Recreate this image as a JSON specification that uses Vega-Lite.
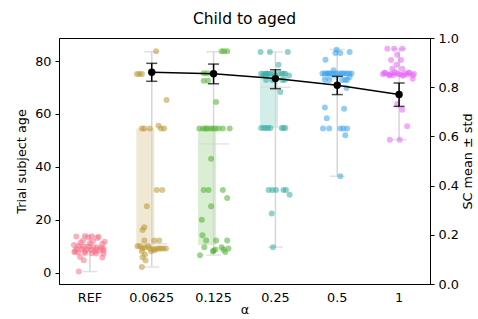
{
  "$schema": "https://vega.github.io/schema/vega-lite/v6.json",
  "width": 371,
  "height": 246,
  "autosize": {"type": "none"},
  "padding": {"left": 59, "top": 38, "right": 48, "bottom": 35},
  "background": "white",
  "config": {
    "font": "DejaVu Sans",
    "view": {"stroke": "black", "strokeWidth": 1},
    "axis": {"labelFontSize": 12.8, "titleFontSize": 12.8, "labelColor": "black", "titleColor": "black", "domainColor": "black", "tickColor": "black", "tickSize": 4, "labelPadding": 3, "titleFontWeight": "normal", "grid": false, "labelFont": "DejaVu Sans", "titleFont": "DejaVu Sans"}
  },
  "title": {"text": "Child to aged", "fontSize": 15.5, "fontWeight": "normal", "color": "black", "offset": 5, "font": "DejaVu Sans"},
  "datasets": {
    "box": [
      {"a": "REF", "q1": 8, "q3": 11, "med": 9.5, "lo": 0.5, "hi": 13.9},
      {"a": "0.0625", "q1": 9.4, "q3": 54.5, "med": 11, "lo": 2.2, "hi": 83.5},
      {"a": "0.125", "q1": 10.5, "q3": 54.5, "med": 48.7, "lo": 6.7, "hi": 83.5},
      {"a": "0.25", "q1": 54.7, "q3": 75.2, "med": 70.1, "lo": 9.7, "hi": 83.4},
      {"a": "0.5", "q1": 73, "q3": 75.3, "med": 75.3, "lo": 36.5, "hi": 84.4},
      {"a": "1", "q1": 74.5, "q3": 75.6, "med": 75, "lo": 50.3, "hi": 84.6}
    ],
    "sc": [
      {"a": "0.0625", "m": 0.861, "lo": 0.824, "hi": 0.897},
      {"a": "0.125", "m": 0.855, "lo": 0.814, "hi": 0.894},
      {"a": "0.25", "m": 0.835, "lo": 0.794, "hi": 0.871},
      {"a": "0.5", "m": 0.808, "lo": 0.770, "hi": 0.844},
      {"a": "1", "m": 0.770, "lo": 0.722, "hi": 0.817}
    ],
    "pts": [
      {"a":"REF","v":0.5,"j":-0.18},{"a":"REF","v":13.7,"j":-0.22},{"a":"REF","v":13.9,"j":-0.08},{"a":"REF","v":13.5,"j":-0.03},{"a":"REF","v":13.8,"j":0.03},{"a":"REF","v":13.6,"j":0.14},{"a":"REF","v":13.2,"j":0.12},{"a":"REF","v":12.2,"j":-0.11},{"a":"REF","v":12,"j":0.05},{"a":"REF","v":11.8,"j":0.24},{"a":"REF","v":11.5,"j":-0.15},{"a":"REF","v":11,"j":0.2},{"a":"REF","v":10.5,"j":-0.26},{"a":"REF","v":10.2,"j":-0.18},{"a":"REF","v":10,"j":-0.1},{"a":"REF","v":10,"j":-0.02},{"a":"REF","v":9.8,"j":0.06},{"a":"REF","v":9.6,"j":0.12},{"a":"REF","v":9.5,"j":0.18},{"a":"REF","v":9.2,"j":0.22},{"a":"REF","v":9,"j":-0.22},{"a":"REF","v":9,"j":-0.13},{"a":"REF","v":8.8,"j":-0.05},{"a":"REF","v":8.7,"j":0.02},{"a":"REF","v":8.6,"j":0.1},{"a":"REF","v":8.5,"j":0.16},{"a":"REF","v":8.4,"j":0.22},{"a":"REF","v":8.2,"j":-0.24},{"a":"REF","v":8,"j":-0.08},{"a":"REF","v":8,"j":0.08},{"a":"REF","v":7.8,"j":-0.25},{"a":"REF","v":7.7,"j":-0.19},{"a":"REF","v":7.5,"j":-0.08},{"a":"REF","v":7.4,"j":0.03},{"a":"REF","v":7.3,"j":0.1},{"a":"REF","v":7.2,"j":0.22},{"a":"REF","v":6,"j":-0.16},{"a":"REF","v":5.8,"j":0.2},{"a":"REF","v":4.8,"j":-0.1},{"a":"REF","v":11.2,"j":0},
      {"a":"0.0625","v":83.7,"j":0.07},{"a":"0.0625","v":75.1,"j":-0.24},{"a":"0.0625","v":75.1,"j":-0.2},{"a":"0.0625","v":75.1,"j":-0.16},{"a":"0.0625","v":65.3,"j":0.24},{"a":"0.0625","v":54.5,"j":-0.16},{"a":"0.0625","v":54.5,"j":-0.12},{"a":"0.0625","v":54.5,"j":-0.03},{"a":"0.0625","v":54.5,"j":0.15},{"a":"0.0625","v":54.5,"j":0.2},{"a":"0.0625","v":55.6,"j":0.11},{"a":"0.0625","v":31.3,"j":0.08},{"a":"0.0625","v":31.3,"j":0.17},{"a":"0.0625","v":25.2,"j":-0.08},{"a":"0.0625","v":17.2,"j":-0.12},{"a":"0.0625","v":16.2,"j":-0.15},{"a":"0.0625","v":12.2,"j":-0.12},{"a":"0.0625","v":12.2,"j":0.04},{"a":"0.0625","v":12.2,"j":0.12},{"a":"0.0625","v":10.1,"j":-0.23},{"a":"0.0625","v":10.1,"j":-0.19},{"a":"0.0625","v":9.2,"j":-0.15},{"a":"0.0625","v":9.6,"j":-0.11},{"a":"0.0625","v":10.1,"j":-0.06},{"a":"0.0625","v":9.2,"j":-0.03},{"a":"0.0625","v":8.9,"j":0.03},{"a":"0.0625","v":9.2,"j":0.08},{"a":"0.0625","v":9.2,"j":0.12},{"a":"0.0625","v":9.2,"j":0.15},{"a":"0.0625","v":9.2,"j":0.19},{"a":"0.0625","v":9.2,"j":0.23},{"a":"0.0625","v":8.2,"j":-0.16},{"a":"0.0625","v":8.2,"j":-0.01},{"a":"0.0625","v":8.5,"j":0.05},{"a":"0.0625","v":6.9,"j":-0.11},{"a":"0.0625","v":5.9,"j":-0.15},{"a":"0.0625","v":4.7,"j":-0.1},{"a":"0.0625","v":2.2,"j":-0.16},
      {"a":"0.125","v":83.7,"j":0.13},{"a":"0.125","v":83.7,"j":0.17},{"a":"0.125","v":83.7,"j":0.22},{"a":"0.125","v":75.4,"j":-0.16},{"a":"0.125","v":75.4,"j":-0.1},{"a":"0.125","v":75.4,"j":-0.02},{"a":"0.125","v":72.6,"j":-0.16},{"a":"0.125","v":72.6,"j":-0.09},{"a":"0.125","v":64.5,"j":0.04},{"a":"0.125","v":54.5,"j":-0.23},{"a":"0.125","v":54.5,"j":-0.17},{"a":"0.125","v":54.5,"j":-0.13},{"a":"0.125","v":54.5,"j":-0.1},{"a":"0.125","v":54.5,"j":-0.05},{"a":"0.125","v":54.5,"j":-0.01},{"a":"0.125","v":54.5,"j":0.03},{"a":"0.125","v":54.5,"j":0.08},{"a":"0.125","v":54.5,"j":0.15},{"a":"0.125","v":54.5,"j":0.26},{"a":"0.125","v":43.1,"j":-0.04},{"a":"0.125","v":31.3,"j":-0.16},{"a":"0.125","v":31.3,"j":-0.08},{"a":"0.125","v":31.3,"j":0.15},{"a":"0.125","v":28.3,"j":0.22},{"a":"0.125","v":25.2,"j":-0.04},{"a":"0.125","v":20.1,"j":-0.19},{"a":"0.125","v":14.2,"j":-0.18},{"a":"0.125","v":12.2,"j":-0.12},{"a":"0.125","v":12.2,"j":0.04},{"a":"0.125","v":12.2,"j":0.22},{"a":"0.125","v":9.7,"j":-0.15},{"a":"0.125","v":8.4,"j":0},{"a":"0.125","v":8.8,"j":0.03},{"a":"0.125","v":9.7,"j":0.13},{"a":"0.125","v":8.8,"j":0.16},{"a":"0.125","v":9.2,"j":0.24},{"a":"0.125","v":7.9,"j":0.19},{"a":"0.125","v":8.2,"j":-0.01},{"a":"0.125","v":6.7,"j":-0.22},
      {"a":"0.25","v":83.4,"j":-0.24},{"a":"0.25","v":83.4,"j":-0.09},{"a":"0.25","v":83.4,"j":0.2},{"a":"0.25","v":78.6,"j":0.05},{"a":"0.25","v":75.2,"j":-0.23},{"a":"0.25","v":75.2,"j":-0.19},{"a":"0.25","v":75.2,"j":-0.15},{"a":"0.25","v":75.2,"j":-0.12},{"a":"0.25","v":75.2,"j":-0.08},{"a":"0.25","v":75.2,"j":0.05},{"a":"0.25","v":75.2,"j":0.1},{"a":"0.25","v":75.2,"j":0.13},{"a":"0.25","v":75.2,"j":0.16},{"a":"0.25","v":75.2,"j":-0.13},{"a":"0.25","v":75.2,"j":-0.03},{"a":"0.25","v":74.5,"j":0},{"a":"0.25","v":74.5,"j":0.22},{"a":"0.25","v":74.5,"j":-0.17},{"a":"0.25","v":72.8,"j":-0.15},{"a":"0.25","v":72.8,"j":-0.05},{"a":"0.25","v":72.8,"j":0.11},{"a":"0.25","v":72.8,"j":0.15},{"a":"0.25","v":68.3,"j":0.08},{"a":"0.25","v":54.7,"j":-0.23},{"a":"0.25","v":54.7,"j":-0.19},{"a":"0.25","v":54.7,"j":-0.15},{"a":"0.25","v":54.7,"j":-0.12},{"a":"0.25","v":54.7,"j":-0.08},{"a":"0.25","v":54.7,"j":0.1},{"a":"0.25","v":54.7,"j":0.13},{"a":"0.25","v":54.7,"j":0.16},{"a":"0.25","v":31.3,"j":-0.11},{"a":"0.25","v":31.3,"j":-0.05},{"a":"0.25","v":31.3,"j":0.01},{"a":"0.25","v":31.3,"j":0.13},{"a":"0.25","v":31.3,"j":0.17},{"a":"0.25","v":29.5,"j":0.23},{"a":"0.25","v":22.4,"j":-0.06},{"a":"0.25","v":9.7,"j":-0.04},
      {"a":"0.5","v":84.3,"j":-0.01},{"a":"0.5","v":83,"j":-0.03},{"a":"0.5","v":83,"j":0.05},{"a":"0.5","v":83.4,"j":0.2},{"a":"0.5","v":80.5,"j":-0.19},{"a":"0.5","v":75.3,"j":-0.24},{"a":"0.5","v":75.3,"j":-0.2},{"a":"0.5","v":75.3,"j":-0.16},{"a":"0.5","v":75.3,"j":-0.12},{"a":"0.5","v":75.3,"j":-0.08},{"a":"0.5","v":75.3,"j":-0.04},{"a":"0.5","v":75.3,"j":0.05},{"a":"0.5","v":75.3,"j":0.11},{"a":"0.5","v":75.3,"j":0.15},{"a":"0.5","v":75.3,"j":0.19},{"a":"0.5","v":75.3,"j":0.23},{"a":"0.5","v":75.3,"j":0},{"a":"0.5","v":75.3,"j":0.08},{"a":"0.5","v":75.3,"j":-0.15},{"a":"0.5","v":76.5,"j":-0.06},{"a":"0.5","v":74,"j":0.2},{"a":"0.5","v":72.8,"j":-0.2},{"a":"0.5","v":72.8,"j":-0.13},{"a":"0.5","v":72.8,"j":0.08},{"a":"0.5","v":72.8,"j":0.13},{"a":"0.5","v":72.8,"j":0.16},{"a":"0.5","v":69.8,"j":0.15},{"a":"0.5","v":62.5,"j":-0.2},{"a":"0.5","v":62,"j":0.11},{"a":"0.5","v":58.4,"j":-0.17},{"a":"0.5","v":54.5,"j":-0.23},{"a":"0.5","v":54.5,"j":-0.13},{"a":"0.5","v":54.5,"j":0.05},{"a":"0.5","v":54.5,"j":0.1},{"a":"0.5","v":54.5,"j":0.16},{"a":"0.5","v":52,"j":0.13},{"a":"0.5","v":36.5,"j":0.05},
      {"a":"1","v":84.6,"j":-0.19},{"a":"1","v":84.6,"j":-0.08},{"a":"1","v":84.6,"j":0.05},{"a":"1","v":82.4,"j":-0.03},{"a":"1","v":80.4,"j":-0.13},{"a":"1","v":80.4,"j":0.03},{"a":"1","v":78.6,"j":-0.04},{"a":"1","v":77.1,"j":-0.11},{"a":"1","v":77.1,"j":0.05},{"a":"1","v":75,"j":-0.26},{"a":"1","v":75.5,"j":-0.22},{"a":"1","v":74.8,"j":-0.17},{"a":"1","v":75.2,"j":-0.13},{"a":"1","v":74.6,"j":-0.09},{"a":"1","v":75.4,"j":-0.04},{"a":"1","v":75,"j":0},{"a":"1","v":74.7,"j":0.04},{"a":"1","v":75.3,"j":0.09},{"a":"1","v":74.9,"j":0.13},{"a":"1","v":75.5,"j":0.17},{"a":"1","v":74.6,"j":0.22},{"a":"1","v":75.1,"j":0.24},{"a":"1","v":75.6,"j":-0.24},{"a":"1","v":74.5,"j":-0.15},{"a":"1","v":75.8,"j":-0.07},{"a":"1","v":74.4,"j":0.07},{"a":"1","v":75.7,"j":0.15},{"a":"1","v":73.3,"j":0.22},{"a":"1","v":63.8,"j":-0.03},{"a":"1","v":61.6,"j":0.05},{"a":"1","v":55.4,"j":0.13},{"a":"1","v":50.3,"j":-0.15},{"a":"1","v":50.3,"j":0.01}
    ]
  },
  "encoding": {
    "x": {"field": "a", "type": "nominal", "sort": ["REF", "0.0625", "0.125", "0.25", "0.5", "1"],
      "scale": {"domain": ["REF", "0.0625", "0.125", "0.25", "0.5", "1"], "paddingInner": 0, "paddingOuter": 0},
      "axis": {"title": "α", "labelAngle": 0, "ticks": false, "labelPadding": 7, "titlePadding": 0}}
  },
  "layer": [
    {
      "layer": [
        {
          "data": {"name": "box"},
          "mark": {"type": "bar", "width": {"band": 0.5}, "opacity": 0.22},
          "encoding": {
            "y": {"field": "q1", "type": "quantitative", "title": "Trial subject age", "scale": {"domain": [-4.2, 88.7], "nice": false, "zero": false}, "axis": {"values": [0, 20, 40, 60, 80], "titlePadding": 6, "labelPadding": 4}},
            "y2": {"field": "q3"},
            "color": {"field": "a", "type": "nominal", "scale": {"domain": ["REF", "0.0625", "0.125", "0.25", "0.5", "1"], "range": ["#f77189", "#bb9832", "#50b131", "#36ada4", "#3ba3ec", "#e866f4"]}, "legend": null}
          }
        },
        {
          "data": {"name": "box"},
          "mark": {"type": "rule", "color": "#d6d6d6", "strokeWidth": 1.5},
          "encoding": {
            "y": {"field": "lo", "type": "quantitative", "title": "Trial subject age", "scale": {"domain": [-4.2, 88.7], "nice": false, "zero": false}, "axis": {"values": [0, 20, 40, 60, 80], "titlePadding": 6, "labelPadding": 4}},
            "y2": {"field": "hi"}
          }
        },
        {
          "data": {"name": "box"},
          "mark": {"type": "tick", "color": "#d6d6d6", "size": 15, "thickness": 1.5},
          "encoding": {
            "y": {"field": "lo", "type": "quantitative", "title": "Trial subject age", "scale": {"domain": [-4.2, 88.7], "nice": false, "zero": false}, "axis": {"values": [0, 20, 40, 60, 80], "titlePadding": 6, "labelPadding": 4}}
          }
        },
        {
          "data": {"name": "box"},
          "mark": {"type": "tick", "color": "#d6d6d6", "size": 15, "thickness": 1.5},
          "encoding": {
            "y": {"field": "hi", "type": "quantitative", "title": "Trial subject age", "scale": {"domain": [-4.2, 88.7], "nice": false, "zero": false}, "axis": {"values": [0, 20, 40, 60, 80], "titlePadding": 6, "labelPadding": 4}}
          }
        },
        {
          "data": {"name": "box"},
          "mark": {"type": "tick", "color": "#d9d9d9", "size": 31, "thickness": 1.5},
          "encoding": {
            "y": {"field": "med", "type": "quantitative", "title": "Trial subject age", "scale": {"domain": [-4.2, 88.7], "nice": false, "zero": false}, "axis": {"values": [0, 20, 40, 60, 80], "titlePadding": 6, "labelPadding": 4}}
          }
        },
        {
          "data": {"name": "pts"},
          "mark": {"type": "circle", "size": 36, "opacity": 0.55},
          "encoding": {
            "xOffset": {"field": "j", "type": "quantitative", "scale": {"domain": [-0.5, 0.5]}},
            "y": {"field": "v", "type": "quantitative", "title": "Trial subject age", "scale": {"domain": [-4.2, 88.7], "nice": false, "zero": false}, "axis": {"values": [0, 20, 40, 60, 80], "titlePadding": 6, "labelPadding": 4}},
            "color": {"field": "a", "type": "nominal", "scale": {"domain": ["REF", "0.0625", "0.125", "0.25", "0.5", "1"], "range": ["#f77189", "#bb9832", "#50b131", "#36ada4", "#3ba3ec", "#e866f4"]}, "legend": null}
          }
        }
      ]
    },
    {
      "data": {"name": "sc"},
      "layer": [
        {
          "mark": {"type": "line", "color": "black", "strokeWidth": 1.5},
          "encoding": {
            "y": {"field": "m", "type": "quantitative", "title": "SC mean ± std", "scale": {"domain": [0, 1], "nice": false}, "axis": {"orient": "right", "values": [0, 0.2, 0.4, 0.6, 0.8, 1], "format": ".1f", "titlePadding": 3, "labelPadding": 4, "titleAngle": 270, "titleBaseline": "top"}}
          }
        },
        {
          "mark": {"type": "rule", "color": "black", "strokeWidth": 1.5},
          "encoding": {
            "y": {"field": "lo", "type": "quantitative", "title": "SC mean ± std", "scale": {"domain": [0, 1], "nice": false}, "axis": {"orient": "right", "values": [0, 0.2, 0.4, 0.6, 0.8, 1], "format": ".1f", "titlePadding": 3, "labelPadding": 4, "titleAngle": 270, "titleBaseline": "top"}},
            "y2": {"field": "hi"}
          }
        },
        {
          "mark": {"type": "tick", "color": "black", "size": 11, "thickness": 1.5},
          "encoding": {
            "y": {"field": "lo", "type": "quantitative", "title": "SC mean ± std", "scale": {"domain": [0, 1], "nice": false}, "axis": {"orient": "right", "values": [0, 0.2, 0.4, 0.6, 0.8, 1], "format": ".1f", "titlePadding": 3, "labelPadding": 4, "titleAngle": 270, "titleBaseline": "top"}}
          }
        },
        {
          "mark": {"type": "tick", "color": "black", "size": 11, "thickness": 1.5},
          "encoding": {
            "y": {"field": "hi", "type": "quantitative", "title": "SC mean ± std", "scale": {"domain": [0, 1], "nice": false}, "axis": {"orient": "right", "values": [0, 0.2, 0.4, 0.6, 0.8, 1], "format": ".1f", "titlePadding": 3, "labelPadding": 4, "titleAngle": 270, "titleBaseline": "top"}}
          }
        },
        {
          "mark": {"type": "circle", "color": "black", "size": 55, "opacity": 1},
          "encoding": {
            "y": {"field": "m", "type": "quantitative", "title": "SC mean ± std", "scale": {"domain": [0, 1], "nice": false}, "axis": {"orient": "right", "values": [0, 0.2, 0.4, 0.6, 0.8, 1], "format": ".1f", "titlePadding": 3, "labelPadding": 4, "titleAngle": 270, "titleBaseline": "top"}}
          }
        }
      ]
    }
  ],
  "resolve": {"scale": {"y": "independent"}}
}
